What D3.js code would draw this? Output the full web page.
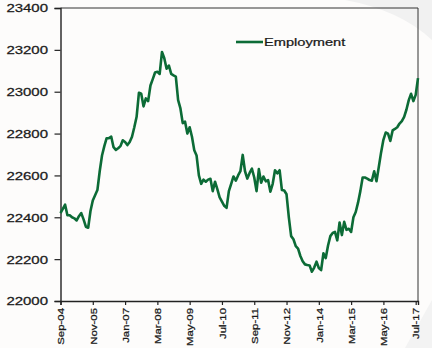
<!DOCTYPE html>
<html>
<head>
<meta charset="utf-8">
<script src="https://cdn.jsdelivr.net/npm/d3@7"></script>
<style>
html,body{margin:0;padding:0;background:#fdfcfb;}
svg{display:block;}
text{font-family:"Liberation Sans",Arial,sans-serif;fill:#1a1a1a;stroke:#1a1a1a;stroke-width:0.25px;}
</style>
</head>
<body>
<svg id="chart" width="432" height="348"></svg>
<script>
// Monthly employment, Sep-04 .. Aug-17 (thousands)
const employment = [
22420,22440,22460,22410,22410,22400,22395,22385,22405,22420,
22390,22355,22350,22430,22480,22505,22530,22620,22695,22740,
22778,22778,22785,22735,22722,22730,22740,22768,22760,22745,
22760,22785,22830,22880,22995,22990,22930,22968,22955,23030,
23060,23092,23095,23085,23190,23160,23110,23125,23085,23078,
23072,22960,22920,22850,22857,22800,22830,22785,22720,22695,
22600,22560,22580,22570,22580,22584,22525,22570,22535,22495,
22475,22455,22445,22525,22560,22595,22575,22600,22620,22698,
22620,22585,22612,22632,22590,22525,22630,22565,22595,22572,
22578,22522,22560,22625,22610,22625,22530,22528,22510,22400,
22310,22295,22262,22250,22215,22190,22175,22172,22170,22140,
22160,22188,22158,22148,22228,22205,22265,22310,22325,22330,
22290,22375,22315,22378,22340,22345,22330,22400,22425,22470,
22525,22590,22590,22585,22578,22575,22620,22572,22640,22710,
22770,22805,22800,22765,22815,22822,22830,22848,22860,22880,
22915,22960,22990,22955,22985,23065
];
const tickLabels = ["Sep-04","Nov-05","Jan-07","Mar-08","May-09","Jul-10","Sep-11","Nov-12","Jan-14","Mar-15","May-16","Jul-17"];
const tickMonths = [0,14,28,42,56,70,84,98,112,126,140,154];
const yTicks = [22000,22200,22400,22600,22800,23000,23200,23400];
const seriesName = "Employment";

const svg = d3.select("#chart");
const L = 60.5, R = 418, T = 8, B = 301;

// faint decorative background shapes
svg.append("path")
  .attr("d", "M345,0 Q400,10 432,40 L432,0 Z")
  .attr("fill", "#f1f1f1");
svg.append("path")
  .attr("d", "M432,300 L405,348 L432,348 Z")
  .attr("fill", "#f3f3f3");

const x = d3.scaleLinear().domain([0, employment.length - 1]).range([L, R]);
const y = d3.scaleLinear().domain([22000, 23400]).range([B, T]);

// plot frame (top & right)
svg.append("path")
  .attr("d", `M${L},${T}H${R}V${B}`)
  .attr("fill", "none").attr("stroke", "#333").attr("stroke-width", 1);

// y axis
const yAxis = svg.append("g").attr("transform", `translate(${L},0)`)
  .call(d3.axisLeft(y).tickValues(yTicks).tickSize(6).tickFormat(d3.format("d")));
yAxis.select(".domain").attr("stroke", "#222").attr("stroke-width", 1.4);
yAxis.selectAll(".tick line").attr("stroke", "#222").attr("stroke-width", 1.2);
yAxis.selectAll(".tick text").remove();
yAxis.selectAll(".tick").append("text")
  .attr("text-anchor", "end")
  .attr("font-size", 11)
  .attr("dy", "0.35em")
  .attr("transform", "translate(-12.5,0) scale(1.36,1)")
  .text(d => d);

// x axis
const xAxis = svg.append("g").attr("transform", `translate(0,${B})`)
  .call(d3.axisBottom(x).tickValues(tickMonths).tickSize(4).tickFormat((d, i) => tickLabels[i]));
xAxis.select(".domain").attr("stroke", "#222").attr("stroke-width", 1.4);
xAxis.selectAll(".tick line").attr("stroke", "#222").attr("stroke-width", 1.2);
xAxis.selectAll(".tick text").remove();
xAxis.selectAll(".tick").append("text")
  .attr("text-anchor", "end")
  .attr("font-size", 9.5)
  .attr("dy", "0.33em")
  .attr("transform", "translate(0,7) scale(1.05,1.2) rotate(-90)")
  .text((d, i) => tickLabels[i]);

// line
const line = d3.line().x((d, i) => x(i)).y(d => y(d));
svg.append("path")
  .datum(employment)
  .attr("d", line)
  .attr("fill", "none")
  .attr("stroke", "#0c6b36")
  .attr("stroke-width", 2.6)
  .attr("stroke-linejoin", "round");

// legend
const lg = svg.append("g").attr("transform", "translate(236,42)");
lg.append("line").attr("x1", 0).attr("x2", 27).attr("y1", 0).attr("y2", 0)
  .attr("stroke", "#0c6b36").attr("stroke-width", 2.6);
lg.append("text").attr("x", 28).attr("dy", "0.35em")
  .attr("font-size", 11)
  .attr("transform", "translate(28,0) scale(1.33,1) translate(-28,0)")
  .text(seriesName);
</script>
</body>
</html>
